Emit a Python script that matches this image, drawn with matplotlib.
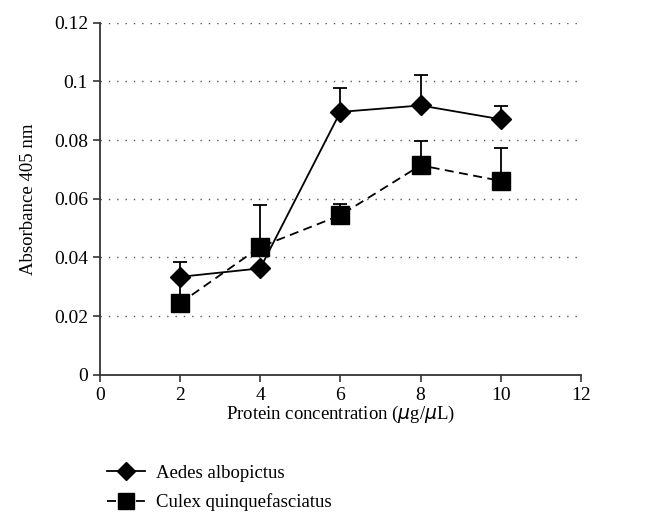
import numpy as np
import matplotlib
matplotlib.use('Agg')
import matplotlib.pyplot as plt
from matplotlib.lines import Line2D

plt.rcParams['font.family'] = ['Liberation Serif', 'DejaVu Serif']

# Proteinkonzentration und Absorbanz
conc = [2, 4, 6, 8, 10]
aedes = [0.0334, 0.0363, 0.0896, 0.0918, 0.0871]
aedes_err = [0.0050, 0.0, 0.0081, 0.0103, 0.0045]
culex = [0.0244, 0.0436, 0.0544, 0.0714, 0.0661]
culex_err = [0.0090, 0.0143, 0.0038, 0.0083, 0.0113]
names = ['Aedes albopictus', 'Culex quinquefasciatus']

fig = plt.figure(figsize=(6.7, 5.28), dpi=100)
ax = fig.add_axes([0.149, 0.290, 0.718, 0.667])

dash = (0, (5, 3))
ax.errorbar(conc, aedes, yerr=[np.zeros(5), aedes_err], color='black', lw=1.3,
            marker='D', markersize=10, capsize=5, elinewidth=1.3, capthick=1.3)
ax.errorbar(conc, culex, yerr=[np.zeros(5), culex_err], color='black', lw=1.3,
            ls=dash, marker='s', markersize=13, capsize=5, elinewidth=1.3,
            capthick=1.3)

ax.set_xlim(0, 12)
ax.set_ylim(0, 0.12)
ax.set_xticks(range(0, 13, 2))
ax.set_yticks([0, 0.02, 0.04, 0.06, 0.08, 0.1, 0.12])
ax.set_yticklabels(['0', '0.02', '0.04', '0.06', '0.08', '0.1', '0.12'])
ax.yaxis.grid(True, ls=(0, (1, 5)), color='#555555', lw=1)
ax.set_axisbelow(True)
for s in ['top', 'right']:
    ax.spines[s].set_visible(False)
for s in ['left', 'bottom']:
    ax.spines[s].set_color('#333333')
    ax.spines[s].set_linewidth(1.3)
ax.tick_params(direction='out', length=5, width=1.2, color='#333333', labelsize=14)
ax.set_xlabel('Protein concentration ($\\mu$g/$\\mu$L)', fontsize=13.5, labelpad=0)
ax.set_ylabel('Absorbance 405 nm', fontsize=13.5, labelpad=12)

handles = [Line2D([], [], color='black', lw=1.3, marker='D', markersize=9),
           Line2D([], [], color='black', lw=1.3, ls=dash, marker='s', markersize=11)]
fig.legend(handles, names, loc='lower left', bbox_to_anchor=(0.135, 0.0),
           frameon=False, fontsize=13.5, handlelength=2.0, handletextpad=0.6,
           labelspacing=0.6)

fig.savefig('out.png', dpi=100)
